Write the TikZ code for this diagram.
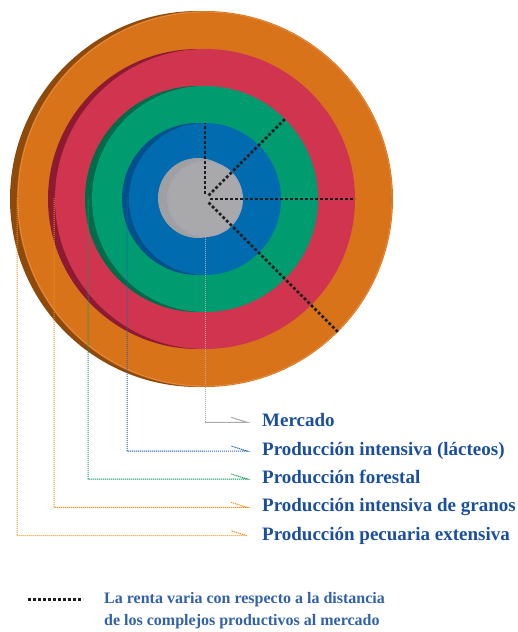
\documentclass[tikz,border=0pt]{standalone}
\usepackage{fontspec}
\setmainfont{Liberation Serif}
\usetikzlibrary{calc}
\definecolor{orMain}{HTML}{D8731A}
\definecolor{orDark}{HTML}{8E4A0B}
\definecolor{rdMain}{HTML}{D1344E}
\definecolor{rdDark}{HTML}{8C1A33}
\definecolor{gnMain}{HTML}{009B6F}
\definecolor{gnDark}{HTML}{006B4A}
\definecolor{blMain}{HTML}{006BAF}
\definecolor{blDark}{HTML}{00508C}
\definecolor{gyDark}{HTML}{A0A0A3}
\definecolor{gyMain}{HTML}{A9A9AC}
\definecolor{txtBlue}{HTML}{1A4F9C}
\definecolor{ldOr}{HTML}{F0901E}
\definecolor{ldGn}{HTML}{109A62}
\definecolor{ldBl}{HTML}{2262AE}
\definecolor{ldGy}{HTML}{ABABAB}
\definecolor{radial}{HTML}{1E1E1E}
\tikzset{
  lbl/.style={anchor=base west, inner sep=0pt, text=txtBlue, font=\fontsize{19}{22}\selectfont\bfseries},
  legtxt/.style={anchor=base west, inner sep=0pt, text=txtBlue!90!white, font=\fontsize{16}{20}\selectfont\bfseries},
  leader/.style={line width=1pt, dash pattern=on 1.2pt off 0.8pt},
  radialline/.style={draw=radial, line width=2.8pt, dash pattern=on 2.8pt off 2.2pt},
  disc/.style={draw=none}
}
\begin{document}
\begin{tikzpicture}[x=1pt,y=1pt]
\useasboundingbox (0,0) rectangle (518,-632);
\coordinate (C) at (205,-199);
% discs with left shadow
\fill[orDark] (198,-199) circle[radius=188pt];
\fill[orMain] (C) circle[radius=188pt];
\draw[orMain!70!white, line width=0.4pt] (C) circle[radius=187pt];
\fill[rdDark] (198,-199) circle[radius=150pt];
\fill[rdMain] (C) circle[radius=150pt];
\fill[gnDark] (198,-199) circle[radius=113pt];
\fill[gnMain] (C) circle[radius=113pt];
\fill[blDark] (198,-199) circle[radius=76pt];
\fill[blMain] (C) circle[radius=76pt];
\fill[gyDark] (198,-198) circle[radius=40pt];
\fill[gyMain] (C) circle[radius=38pt];
\draw[blue!20!gyMain!80!white, line width=0.4pt] (C) circle[radius=37pt];
% leader start points
\coordinate (sP) at (17,-198);
\coordinate (sG) at (54,-198);
\coordinate (sF) at (88,-198);
\coordinate (sL) at (127,-198);
% leader end points
\coordinate (eM) at (247,-422.3);
\coordinate (eL) at (247,-451);
\coordinate (eF) at (247,-479);
\coordinate (eG) at (247,-507.3);
\coordinate (eP) at (247,-535.7);
% labels
\node[lbl] (tM) at (262,-426.7) {Mercado};
\node[lbl] (tL) at (262,-455.4) {Producción intensiva (lácteos)};
\node[lbl] (tF) at (262,-483.4) {Producción forestal};
\node[lbl] (tG) at (262,-511.7) {Producción intensiva de granos};
\node[lbl] (tP) at (262,-540.1) {Producción pecuaria extensiva};
% leaders
\draw[leader, ldGy] (C) -- (C |- eM);
\draw[ldGy, line width=1pt] (C |- eM) -- (eM) -- ++(-16,5);
\draw[leader, ldBl] (sL) |- (eL) -- ++(-16,5);
\draw[leader, ldGn] (sF) |- (eF) -- ++(-16,5);
\draw[leader, ldOr] (sG) |- (eG) -- ++(-16,5);
\draw[leader, ldOr] (sP) |- (eP) -- ++(-16,5);
% radial dotted lines
\draw[radialline] ($(C)+(90:5)$) -- ($(C)+(90:76)$);
\draw[radialline] ($(C)+(45:5)$) -- ($(C)+(45:113)$);
\draw[radialline] ($(C)+(0:5)$) -- ($(C)+(0:150)$);
\draw[radialline] ($(C)+(-45:5)$) -- ($(C)+(-45:188)$);
% legend
\coordinate (la) at (28,-599.3);
\coordinate (lb) at (83,-599.3);
\draw[radialline] (la) -- (lb);
\node[legtxt] (leg1) at (104,-603.3) {La renta varia con respecto a la distancia};
\node[legtxt] (leg2) at (104,-625) {de los complejos productivos al mercado};
\end{tikzpicture}
\end{document}
